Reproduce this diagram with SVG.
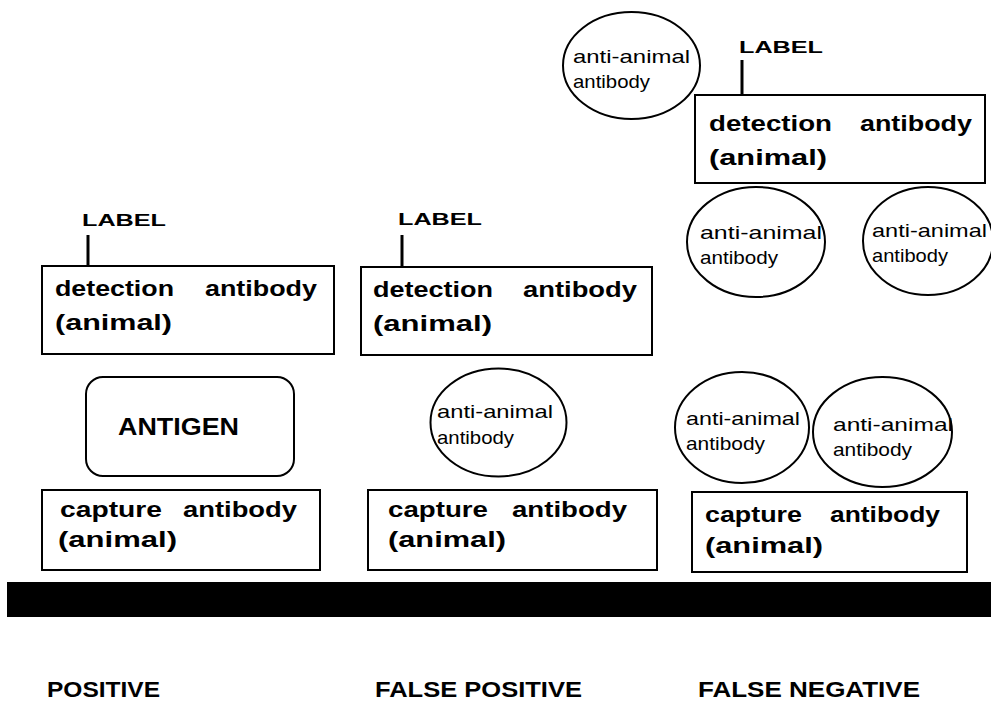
<svg xmlns="http://www.w3.org/2000/svg" width="991" height="701" viewBox="0 0 991 701">
<style>
.bg{fill:#fff}
.box{fill:#fff;stroke:#000;stroke-width:2}
.link{stroke:#000;stroke-width:3;fill:none}
.b{font-family:"Liberation Sans",Arial,sans-serif;font-weight:bold;font-size:22px;fill:#000}
.lb{font-family:"Liberation Sans",Arial,sans-serif;font-weight:bold;font-size:17px;fill:#000}
.ag{font-family:"Liberation Sans",Arial,sans-serif;font-weight:bold;font-size:24px;fill:#000}
.cap{font-family:"Liberation Sans",Arial,sans-serif;font-weight:bold;font-size:22px;fill:#000}
.r{font-family:"Liberation Sans",Arial,sans-serif;font-size:19px;fill:#000}
</style>
<rect class="bg" x="0" y="0" width="991" height="701"/>

<g id="connectors">
  <line class="link" x1="88" y1="235" x2="88" y2="266"/>
  <line class="link" x1="402" y1="235" x2="402" y2="267"/>
  <line class="link" x1="742" y1="60" x2="742" y2="95"/>
</g>

<!-- POSITIVE -->
<g id="label-pos">
  <text class="lb" x="82" y="226" textLength="84" lengthAdjust="spacingAndGlyphs">LABEL</text>
</g>
<g id="detection-pos">
  <rect class="box" x="42" y="266" width="292" height="88"/>
  <text class="b" x="55" y="296" textLength="119" lengthAdjust="spacingAndGlyphs">detection</text>
  <text class="b" x="205" y="296" textLength="112" lengthAdjust="spacingAndGlyphs">antibody</text>
  <text class="b" x="55" y="330" textLength="117" lengthAdjust="spacingAndGlyphs">(animal)</text>
</g>
<g id="antigen">
  <rect class="box" x="86" y="377" width="208" height="99" rx="17" ry="17"/>
  <text class="ag" x="118" y="435" textLength="121" lengthAdjust="spacingAndGlyphs">ANTIGEN</text>
</g>
<g id="capture-pos">
  <rect class="box" x="42" y="490" width="278" height="80"/>
  <text class="b" x="60" y="517" textLength="102" lengthAdjust="spacingAndGlyphs">capture</text>
  <text class="b" x="183" y="517" textLength="114" lengthAdjust="spacingAndGlyphs">antibody</text>
  <text class="b" x="58" y="547" textLength="119" lengthAdjust="spacingAndGlyphs">(animal)</text>
</g>

<!-- FALSE POSITIVE -->
<g id="label-fp">
  <text class="lb" x="398" y="225" textLength="84" lengthAdjust="spacingAndGlyphs">LABEL</text>
</g>
<g id="detection-fp">
  <rect class="box" x="361" y="267" width="291" height="88"/>
  <text class="b" x="373" y="297" textLength="120" lengthAdjust="spacingAndGlyphs">detection</text>
  <text class="b" x="523" y="297" textLength="114" lengthAdjust="spacingAndGlyphs">antibody</text>
  <text class="b" x="373" y="331" textLength="119" lengthAdjust="spacingAndGlyphs">(animal)</text>
</g>
<g id="anti-fp">
  <ellipse class="box" cx="498.5" cy="422.5" rx="68" ry="54"/>
  <text class="r" x="437" y="418" textLength="116" lengthAdjust="spacingAndGlyphs">anti-animal</text>
  <text class="r" x="437" y="444" textLength="77" lengthAdjust="spacingAndGlyphs">antibody</text>
</g>
<g id="capture-fp">
  <rect class="box" x="368" y="490" width="289" height="80"/>
  <text class="b" x="388" y="517" textLength="100" lengthAdjust="spacingAndGlyphs">capture</text>
  <text class="b" x="512" y="517" textLength="115" lengthAdjust="spacingAndGlyphs">antibody</text>
  <text class="b" x="388" y="547" textLength="118" lengthAdjust="spacingAndGlyphs">(animal)</text>
</g>

<!-- FALSE NEGATIVE -->
<g id="anti-fn-top">
  <ellipse class="box" cx="631.5" cy="65.5" rx="68.5" ry="53.5"/>
  <text class="r" x="573" y="63" textLength="117" lengthAdjust="spacingAndGlyphs">anti-animal</text>
  <text class="r" x="573" y="88" textLength="77" lengthAdjust="spacingAndGlyphs">antibody</text>
</g>
<g id="label-fn">
  <text class="lb" x="739" y="53" textLength="84" lengthAdjust="spacingAndGlyphs">LABEL</text>
</g>
<g id="detection-fn">
  <rect class="box" x="695" y="95" width="290" height="88"/>
  <text class="b" x="709" y="131" textLength="123" lengthAdjust="spacingAndGlyphs">detection</text>
  <text class="b" x="860" y="131" textLength="112" lengthAdjust="spacingAndGlyphs">antibody</text>
  <text class="b" x="709" y="165" textLength="118" lengthAdjust="spacingAndGlyphs">(animal)</text>
</g>
<g id="anti-fn-mid1">
  <ellipse class="box" cx="756" cy="242" rx="69" ry="55"/>
  <text class="r" x="700" y="239" textLength="122" lengthAdjust="spacingAndGlyphs">anti-animal</text>
  <text class="r" x="700" y="264" textLength="78" lengthAdjust="spacingAndGlyphs">antibody</text>
</g>
<g id="anti-fn-mid2">
  <ellipse class="box" cx="928" cy="241" rx="65" ry="54"/>
  <text class="r" x="872" y="237" textLength="115" lengthAdjust="spacingAndGlyphs">anti-animal</text>
  <text class="r" x="872" y="262" textLength="76" lengthAdjust="spacingAndGlyphs">antibody</text>
</g>
<g id="anti-fn-low1">
  <ellipse class="box" cx="742" cy="427.5" rx="67" ry="55.5"/>
  <text class="r" x="686" y="425" textLength="114" lengthAdjust="spacingAndGlyphs">anti-animal</text>
  <text class="r" x="686" y="450" textLength="79" lengthAdjust="spacingAndGlyphs">antibody</text>
</g>
<g id="anti-fn-low2">
  <ellipse class="box" cx="882.5" cy="432" rx="69.5" ry="55"/>
  <text class="r" x="833" y="431" textLength="120" lengthAdjust="spacingAndGlyphs">anti-animal</text>
  <text class="r" x="833" y="456" textLength="79" lengthAdjust="spacingAndGlyphs">antibody</text>
</g>
<g id="capture-fn">
  <rect class="box" x="692" y="492" width="275" height="80"/>
  <text class="b" x="705" y="522" textLength="97" lengthAdjust="spacingAndGlyphs">capture</text>
  <text class="b" x="830" y="522" textLength="110" lengthAdjust="spacingAndGlyphs">antibody</text>
  <text class="b" x="705" y="553" textLength="118" lengthAdjust="spacingAndGlyphs">(animal)</text>
</g>

<g id="surface">
  <rect x="7" y="582" width="984" height="35" fill="#000"/>
</g>

<g id="captions">
  <text class="cap" x="47" y="697" textLength="113" lengthAdjust="spacingAndGlyphs">POSITIVE</text>
  <text class="cap" x="375" y="697" textLength="207" lengthAdjust="spacingAndGlyphs">FALSE POSITIVE</text>
  <text class="cap" x="698" y="697" textLength="222" lengthAdjust="spacingAndGlyphs">FALSE NEGATIVE</text>
</g>
</svg>
